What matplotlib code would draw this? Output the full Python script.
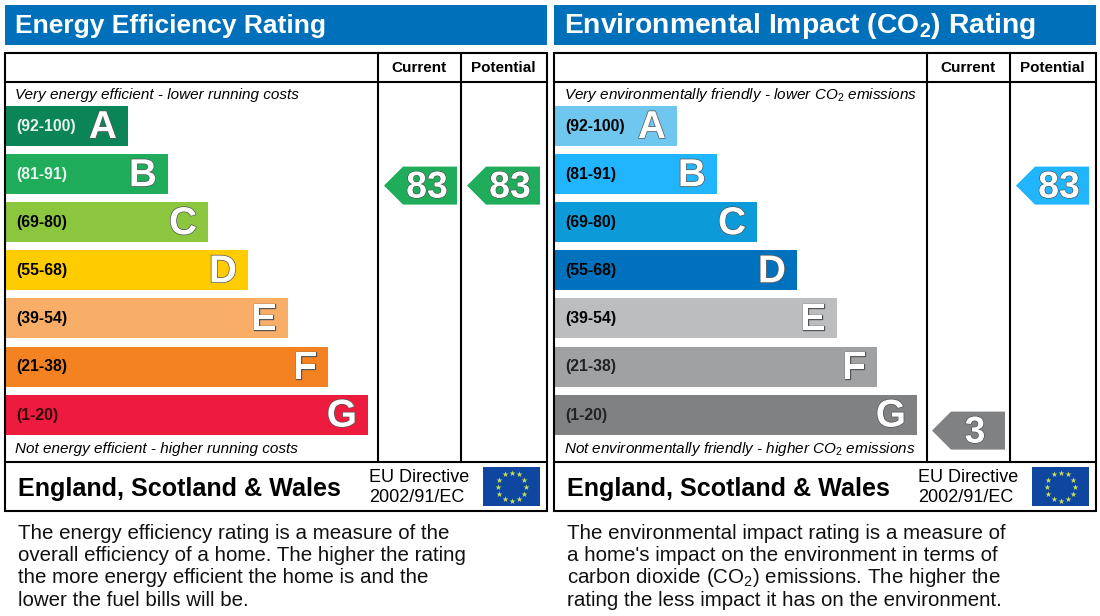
import numpy as np
import matplotlib
matplotlib.use('Agg')
import matplotlib.pyplot as plt
import matplotlib.patheffects as pe
from matplotlib.patches import Polygon, Rectangle

plt.rcParams['font.family'] = ['Liberation Sans', 'DejaVu Sans']
plt.rcParams['mathtext.fontset'] = 'custom'
plt.rcParams['mathtext.rm'] = 'Liberation Sans'
plt.rcParams['mathtext.it'] = 'Liberation Sans:italic'
plt.rcParams['mathtext.bf'] = 'Liberation Sans:bold'

# data
letters = ['A', 'B', 'C', 'D', 'E', 'F', 'G']
ranges = ['(92-100)', '(81-91)', '(69-80)', '(55-68)', '(39-54)', '(21-38)', '(1-20)']
range_low = [92, 81, 69, 55, 39, 21, 1]
band_rank = [1, 2, 3, 4, 5, 6, 7]

energy_colors = ['#0b8457', '#20ad5b', '#8cc63e', '#ffcc00', '#f9ae68', '#f58220', '#ed1b3d']
energy_range_colors = ['#e8f5ee', '#e8f5ee', 'black', 'black', 'black', 'black', '#33060c']
energy_current = 83
energy_potential = 83

env_colors = ['#6fc6ee', '#20b5fd', '#0c9ad9', '#0071bc', '#bcbdbf', '#a0a1a3', '#808183']
env_range_colors = ['black', 'black', 'black', 'black', 'black', '#222222', '#222222']
env_current = 3
env_potential = 83

energy_text = ['The energy efficiency rating is a measure of the',
               'overall efficiency of a home. The higher the rating',
               'the more energy efficient the home is and the',
               'lower the fuel bills will be.']
env_text = ["The environmental impact rating is a measure of",
            "a home's impact on the environment in terms of",
            "carbon dioxide (CO$_{2}$) emissions. The higher the",
            "rating the less impact it has on the environment."]

fig = plt.figure(figsize=(11, 6.16), dpi=100)
ax = fig.add_axes([0, 0, 1, 1])
ax.set_xlim(0, 1100)
ax.set_ylim(616, 0)
ax.axis('off')


def band_of(value):
    for i, low in enumerate(range_low):
        if value >= low:
            return i
    return 6


def arrow(x0, value, color):
    # the arrows sit a bit under the middle of their band
    y = 126 + band_of(value) * 48.1 + (11.5 if value == 83 else 16)
    ax.add_patch(Polygon([(x0, y), (x0 + 19, y - 19), (x0 + 73, y - 19),
                          (x0 + 73, y + 19), (x0 + 19, y + 19)], fc=color, ec='none', zorder=3))
    ax.text(x0 + 43, y + 2, str(value), color='white', fontsize=27, fontweight='bold',
            ha='center', va='center', zorder=4,
            path_effects=[pe.withStroke(linewidth=0.8, foreground='#444444')])


def panel(x0, title, title_size, top, bottom, colors, range_colors, current, potential, body):
    ax.add_patch(Rectangle((x0, 5), 542, 40, fc='#0070ba', ec='none'))
    ax.text(x0 + 10, 26, title, color='white', fontsize=title_size, fontweight='bold', va='center')

    # frame
    ax.add_patch(Rectangle((x0, 53), 542, 458, ec='black', lw=1.5, zorder=5, fill=False))
    ax.plot([x0, x0 + 542], [82, 82], color='black', lw=1.5, zorder=5)
    ax.plot([x0, x0 + 542], [462, 462], color='black', lw=1.5, zorder=5)
    ax.plot([x0 + 373, x0 + 373], [53, 462], color='black', lw=1.5, zorder=5)
    ax.plot([x0 + 456, x0 + 456], [53, 462], color='black', lw=1.5, zorder=5)
    ax.text(x0 + 414, 68.5, 'Current', fontsize=11, fontweight='bold', ha='center', va='center')
    ax.text(x0 + 498, 68.5, 'Potential', fontsize=11, fontweight='bold', ha='center', va='center')

    ax.text(x0 + 10, 95.5, top, fontsize=11, style='italic', va='center')
    ax.text(x0 + 10, 449.5, bottom, fontsize=11, style='italic', va='center')

    # bands
    for i, rank in enumerate(band_rank):
        y = 126 + i * 48.1
        w = 82 + 40 * rank
        ax.barh(y, w, height=40, left=x0 + 1, color=colors[i], zorder=2)
        ax.text(x0 + 11, y + 0.5, ranges[i], color=range_colors[i], fontsize=11.3, fontweight='bold',
                va='center', zorder=3)
        ax.text(x0 + w - 10, y + 2, letters[i], color='white', fontsize=28, fontweight='bold',
                ha='right', va='center', zorder=3,
                path_effects=[pe.withStroke(linewidth=1.0, foreground='#555555')])

    if current is not None:
        arrow(x0 + 379, current, colors[band_of(current)])
    if potential is not None:
        arrow(x0 + 462, potential, colors[band_of(potential)])

    # footer
    ax.text(x0 + 13, 489, 'England, Scotland & Wales', fontsize=18.1, fontweight='bold', va='center')
    ax.text(x0 + 364, 478, 'EU Directive', fontsize=13, va='center')
    ax.text(x0 + 364, 497, '2002/91/EC', fontsize=13, va='center')
    ax.add_patch(Rectangle((x0 + 478, 467), 57, 39, fc='#0f47a0', ec='none', zorder=3))
    angles = np.arange(12) * np.pi / 6
    ax.scatter(x0 + 506.5 + 14 * np.sin(angles), 486.5 - 14 * np.cos(angles), marker='*', s=20,
               color='#c5e05a', linewidths=0, zorder=4)

    for i, line in enumerate(body):
        ax.text(x0 + 13, 533.5 + i * 22.2, line, fontsize=14.8, va='center', color='#111111')


panel(5, 'Energy Efficiency Rating', 19,
      'Very energy efficient - lower running costs',
      'Not energy efficient - higher running costs',
      energy_colors, energy_range_colors, energy_current, energy_potential, energy_text)
panel(554, r'Environmental Impact (CO$_{\mathbf{2}}$) Rating', 20.3,
      r'Very environmentally friendly - lower CO$_{\mathit{2}}$ emissions',
      r'Not environmentally friendly - higher CO$_{\mathit{2}}$ emissions',
      env_colors, env_range_colors, None, env_potential, env_text)
arrow(554 + 378, env_current, env_colors[band_of(env_current)])

fig.savefig('out.png', dpi=100)
